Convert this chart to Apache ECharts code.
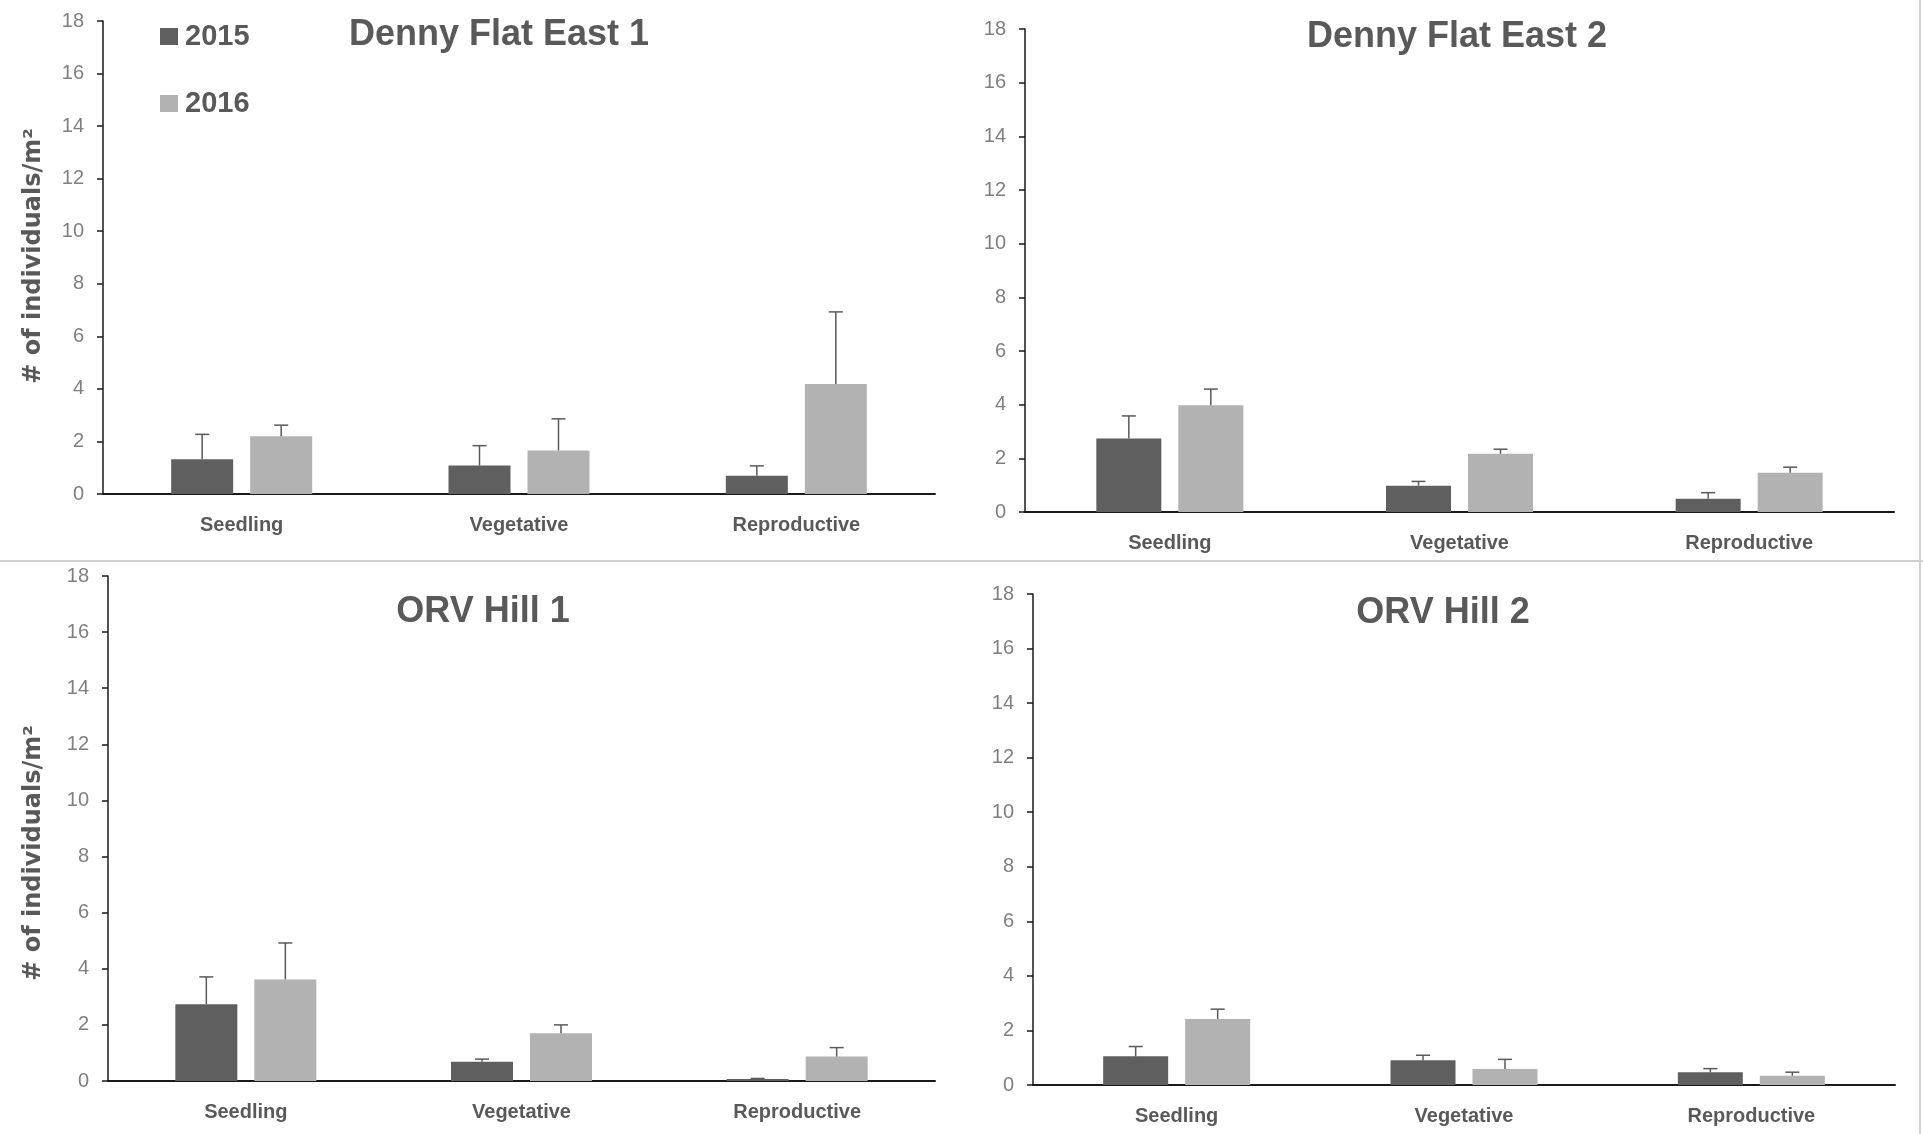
<!DOCTYPE html>
<html>
<head>
<meta charset="utf-8">
<title>Plant stage density</title>
<script src="https://cdn.jsdelivr.net/npm/echarts@6/dist/echarts.min.js"></script>
<style>
  html, body { margin: 0; padding: 0; background: #fff; }
  #main { width: 1923px; height: 1134px; }
</style>
</head>
<body>
<div id="main"></div>
<script type="text/javascript">

// ---- data (means and standard errors) ----
var categories = ['Seedling', 'Vegetative', 'Reproductive'];
var years = ['2015', '2016'];
var panelTitles = ['Denny Flat East 1', 'Denny Flat East 2', 'ORV Hill 1', 'ORV Hill 2'];
var yTicks = { min: 0, max: 18, step: 2 };
var yName = '# of individuals/m²';

var dfe1Mean2015 = [1.32, 1.08, 0.69];
var dfe1Se2015   = [0.95, 0.76, 0.38];
var dfe1Mean2016 = [2.20, 1.66, 4.19];
var dfe1Se2016   = [0.42, 1.20, 2.74];

var dfe2Mean2015 = [2.74, 0.98, 0.49];
var dfe2Se2015   = [0.84, 0.16, 0.23];
var dfe2Mean2016 = [3.98, 2.17, 1.46];
var dfe2Se2016   = [0.60, 0.17, 0.21];

var orv1Mean2015 = [2.74, 0.69, 0.07];
var orv1Se2015   = [0.97, 0.09, 0.02];
var orv1Mean2016 = [3.62, 1.70, 0.87];
var orv1Se2016   = [1.30, 0.30, 0.32];

var orv2Mean2015 = [1.05, 0.91, 0.47];
var orv2Se2015   = [0.36, 0.18, 0.13];
var orv2Mean2016 = [2.42, 0.59, 0.34];
var orv2Se2016   = [0.36, 0.35, 0.13];

var panels = [
    [dfe1Mean2015, dfe1Se2015, dfe1Mean2016, dfe1Se2016],
    [dfe2Mean2015, dfe2Se2015, dfe2Mean2016, dfe2Se2016],
    [orv1Mean2015, orv1Se2015, orv1Mean2016, orv1Se2016],
    [orv2Mean2015, orv2Se2015, orv2Mean2016, orv2Se2016]
];

// ---- layout ----
var grids = [
    { left: 103,  top: 21,  width: 832, height: 473 },
    { left: 1025, top: 29,  width: 869, height: 483 },
    { left: 108,  top: 576, width: 827, height: 505 },
    { left: 1033, top: 594, width: 862, height: 491 }
];
var titlePos = [[494, 12], [1452, 14], [478, 589], [1438, 590]];
var barWidths = [62, 65, 62, 65];
var BAR_GAP_PX = 17;

var colors = ['#5f5f5f', '#b2b2b2'];
var textGrey = '#595959';
var FONT = '"Liberation Sans", Arial, sans-serif';

var chart = echarts.init(document.getElementById('main'));

function makeErrRender(barW) {
    var off = (barW + BAR_GAP_PX) / 2;
    return function (params, api) {
        var c = api.value(0);
        var base = api.coord([c, api.value(1)]);
        var top = api.coord([c, api.value(2)]);
        var x = base[0] + (api.value(3) === 0 ? -off : off);
        var st = { stroke: '#595959', lineWidth: 1.5 };
        return {
            type: 'group',
            children: [
                { type: 'line', shape: { x1: x, y1: base[1], x2: x, y2: top[1] }, style: st },
                { type: 'line', shape: { x1: x - 7, y1: top[1], x2: x + 7, y2: top[1] }, style: st }
            ]
        };
    };
}

var option = {
    animation: false,
    backgroundColor: '#fff',
    title: [],
    legend: {
        data: years,
        orient: 'vertical',
        left: 160,
        top: 22,
        padding: 0,
        icon: 'rect',
        itemWidth: 18,
        itemHeight: 17,
        itemGap: 38,
        textStyle: { color: textGrey, fontSize: 29, fontWeight: 'bold', fontFamily: FONT, lineHeight: 29, padding: [0, 0, 0, 2] }
    },
    grid: [],
    xAxis: [],
    yAxis: [],
    series: [],
    graphic: [
        { type: 'line', shape: { x1: 0, y1: 561, x2: 1923, y2: 561 }, style: { stroke: '#d0d0d0', lineWidth: 2 } },
        { type: 'line', shape: { x1: 1920, y1: 0, x2: 1920, y2: 1134 }, style: { stroke: '#d0d0d0', lineWidth: 2 } },
        { type: 'text', x: 34, y: 256, rotation: Math.PI / 2,
          style: { text: yName, fill: textGrey, font: 'bold 24px "DejaVu Sans", sans-serif', align: 'center', verticalAlign: 'middle' } },
        { type: 'text', x: 34, y: 853, rotation: Math.PI / 2,
          style: { text: yName, fill: textGrey, font: 'bold 24px "DejaVu Sans", sans-serif', align: 'center', verticalAlign: 'middle' } }
    ]
};

panels.forEach(function (p, i) {
    option.title.push({
        text: panelTitles[i],
        left: titlePos[i][0],
        top: titlePos[i][1],
        textAlign: 'center',
        textStyle: { color: textGrey, fontSize: 36, fontWeight: 'bold', fontFamily: FONT }
    });
    option.grid.push(grids[i]);
    option.xAxis.push({
        gridIndex: i,
        type: 'category',
        data: categories,
        axisTick: { show: false },
        axisLine: { lineStyle: { color: '#1a1a1a', width: 2 } },
        axisLabel: { margin: 21, color: textGrey, fontSize: 20, fontWeight: 'bold', fontFamily: FONT }
    });
    option.yAxis.push({
        gridIndex: i,
        type: 'value',
        min: yTicks.min,
        max: yTicks.max,
        interval: yTicks.step,
        splitLine: { show: false },
        axisLine: { show: true, lineStyle: { color: '#1a1a1a', width: 1.5 } },
        axisTick: { show: true, length: 6, lineStyle: { color: '#1a1a1a', width: 1.5 } },
        axisLabel: { margin: 19, color: '#7f7f7f', fontSize: 20, fontFamily: FONT }
    });
    var bw = barWidths[i];
    for (var s = 0; s < 2; s++) {
        var mean = p[s * 2], se = p[s * 2 + 1];
        option.series.push({
            name: years[s],
            type: 'bar',
            xAxisIndex: i,
            yAxisIndex: i,
            data: mean,
            barWidth: bw,
            barGap: (BAR_GAP_PX / bw * 100) + '%',
            itemStyle: { color: colors[s] }
        });
        option.series.push({
            type: 'custom',
            xAxisIndex: i,
            yAxisIndex: i,
            renderItem: makeErrRender(bw),
            encode: { x: 0, y: [1, 2] },
            z: 5,
            data: categories.map(function (c, j) { return [j, mean[j], mean[j] + se[j], s]; })
        });
    }
});

chart.setOption(option);

</script>
</body>
</html>
